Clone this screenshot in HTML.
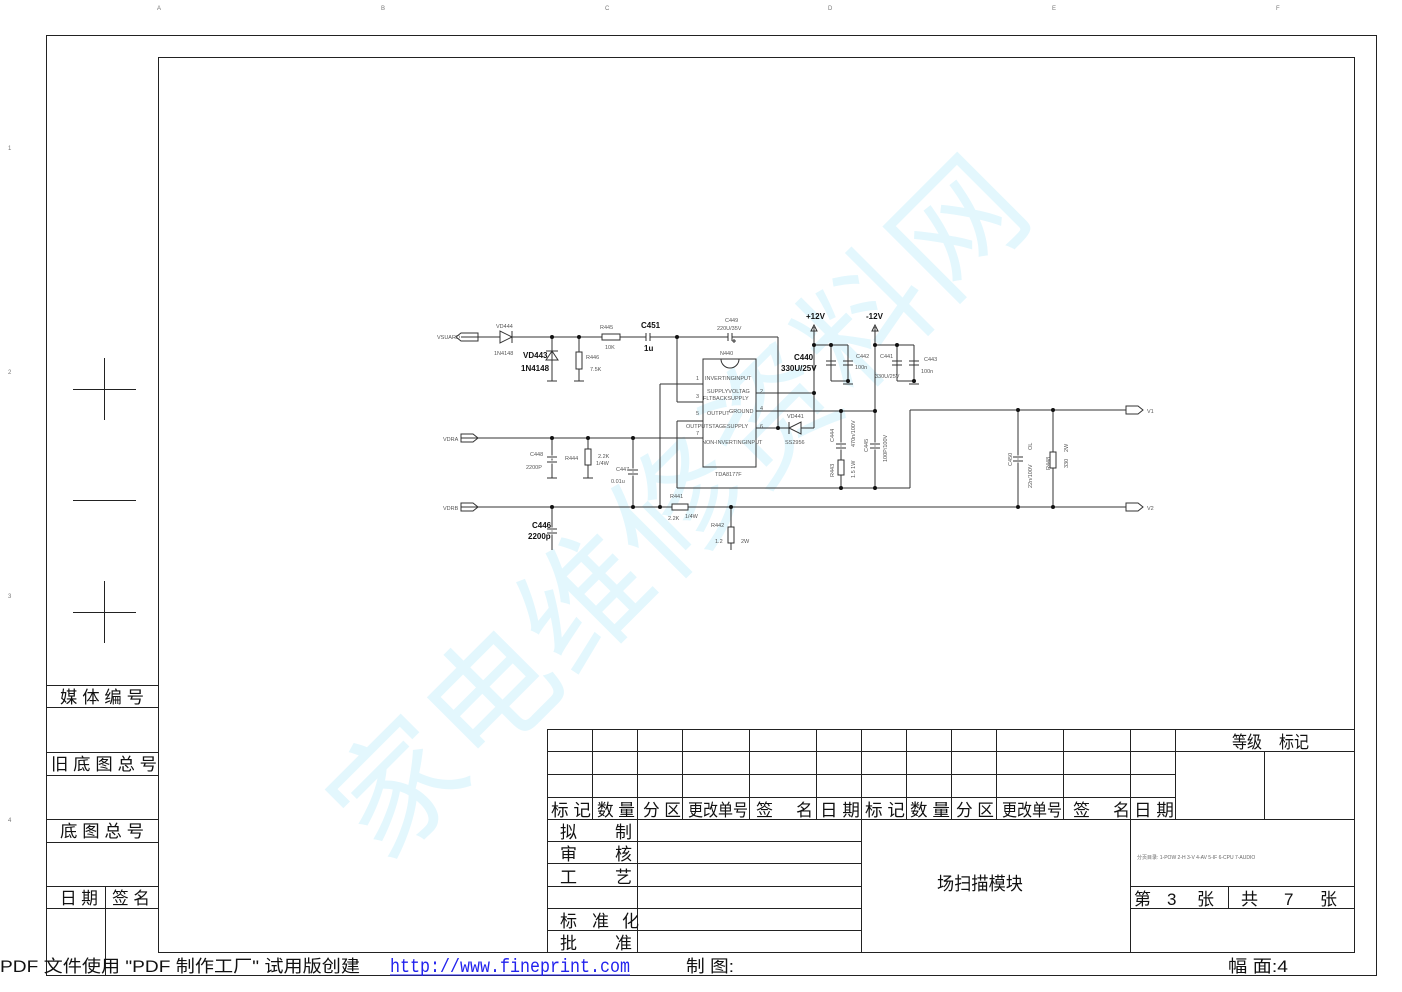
<!DOCTYPE html>
<html><head><meta charset="utf-8"><style>
html,body{margin:0;padding:0;background:#fff;}
svg{display:block;}
text{font-family:"Liberation Sans","Noto Sans CJK SC",sans-serif;}
.cn{font-family:"Liberation Sans","Noto Sans CJK SC",sans-serif;font-size:17px;fill:#111;}
.s{font-size:5.5px;fill:#555;}
.b{font-size:8px;fill:#111;font-weight:bold;}
</style></head><body>
<svg width="1402" height="992" viewBox="0 0 1402 992" xmlns="http://www.w3.org/2000/svg">
<rect width="1402" height="992" fill="#fff"/>
<!-- watermark -->
<text x="0" y="0" transform="translate(385,865) rotate(-45)" font-size="128" fill="#e3f7fd" style="font-family:'Noto Sans CJK SC',sans-serif;letter-spacing:4px">家电维修资料网</text>
<!-- zone letters -->
<g font-size="6" fill="#777">
<text x="157" y="10">A</text><text x="381" y="10">B</text><text x="605" y="10">C</text><text x="828" y="10">D</text><text x="1052" y="10">E</text><text x="1276" y="10">F</text>
<text x="8" y="150">1</text><text x="8" y="374">2</text><text x="8" y="598">3</text><text x="8" y="822">4</text>
</g>
<g fill="none" stroke="#222" stroke-width="1">
<rect x="46.5" y="35.5" width="1330" height="940"/>
<rect x="158.5" y="57.5" width="1196" height="895"/>
<line x1="46" y1="685.5" x2="158" y2="685.5"/><line x1="46" y1="707.5" x2="158" y2="707.5"/>
<line x1="46" y1="752.5" x2="158" y2="752.5"/><line x1="46" y1="775.5" x2="158" y2="775.5"/>
<line x1="46" y1="819.5" x2="158" y2="819.5"/><line x1="46" y1="842.5" x2="158" y2="842.5"/>
<line x1="46" y1="886.5" x2="158" y2="886.5"/><line x1="46" y1="908.5" x2="158" y2="908.5"/>
<line x1="105.5" y1="886" x2="105.5" y2="975"/>
<line x1="104.5" y1="358" x2="104.5" y2="420"/><line x1="73" y1="389.5" x2="136" y2="389.5"/>
<line x1="73" y1="500.5" x2="136" y2="500.5"/>
<line x1="104.5" y1="581" x2="104.5" y2="643"/><line x1="73" y1="612.5" x2="136" y2="612.5"/>
<rect x="547.5" y="729.5" width="807" height="223"/>
<line x1="547" y1="751.5" x2="1175" y2="751.5"/>
<line x1="547" y1="774.5" x2="1175" y2="774.5"/>
<line x1="547" y1="797.5" x2="1175" y2="797.5"/>
<line x1="547" y1="819.5" x2="1354" y2="819.5"/>
<line x1="1175" y1="751.5" x2="1354" y2="751.5"/>
<line x1="1264.5" y1="751" x2="1264.5" y2="819"/>
<line x1="1175.5" y1="729" x2="1175.5" y2="819"/>
<line x1="592.5" y1="729" x2="592.5" y2="819"/><line x1="637.5" y1="729" x2="637.5" y2="952"/>
<line x1="682.5" y1="729" x2="682.5" y2="819"/><line x1="749.5" y1="729" x2="749.5" y2="819"/>
<line x1="816.5" y1="729" x2="816.5" y2="819"/><line x1="861.5" y1="729" x2="861.5" y2="952"/>
<line x1="906.5" y1="729" x2="906.5" y2="819"/><line x1="951.5" y1="729" x2="951.5" y2="819"/>
<line x1="996.5" y1="729" x2="996.5" y2="819"/><line x1="1063.5" y1="729" x2="1063.5" y2="819"/>
<line x1="1130.5" y1="729" x2="1130.5" y2="952"/>
<line x1="547" y1="841.5" x2="861" y2="841.5"/><line x1="547" y1="863.5" x2="861" y2="863.5"/>
<line x1="547" y1="886.5" x2="861" y2="886.5"/><line x1="547" y1="908.5" x2="861" y2="908.5"/>
<line x1="547" y1="930.5" x2="861" y2="930.5"/>
<line x1="1130" y1="886.5" x2="1354" y2="886.5"/><line x1="1130" y1="908.5" x2="1354" y2="908.5"/>
<line x1="1228.5" y1="886" x2="1228.5" y2="908"/>
</g>
<g class="cn" font-size="16">
<text x="60" y="703" textLength="84" lengthAdjust="spacingAndGlyphs">媒 体 编 号</text>
<text x="51" y="770" textLength="106" lengthAdjust="spacingAndGlyphs">旧 底 图 总 号</text>
<text x="60" y="837" textLength="84" lengthAdjust="spacingAndGlyphs">底 图 总 号</text>
<text x="60" y="904" textLength="38" lengthAdjust="spacingAndGlyphs">日 期</text><text x="112" y="904" textLength="38" lengthAdjust="spacingAndGlyphs">签 名</text>
</g>
<g class="cn" font-size="16">
<text x="1232" y="748" textLength="30" lengthAdjust="spacingAndGlyphs">等级</text><text x="1279" y="748" textLength="30" lengthAdjust="spacingAndGlyphs">标记</text>
<text x="551" y="816" textLength="40" lengthAdjust="spacingAndGlyphs">标 记</text><text x="597" y="816" textLength="38" lengthAdjust="spacingAndGlyphs">数 量</text><text x="643" y="816" textLength="38" lengthAdjust="spacingAndGlyphs">分 区</text><text x="688" y="816" textLength="60" lengthAdjust="spacingAndGlyphs">更改单号</text><text x="756" y="816">签</text><text x="796" y="816">名</text><text x="820" y="816" textLength="40" lengthAdjust="spacingAndGlyphs">日 期</text>
<text x="865" y="816" textLength="40" lengthAdjust="spacingAndGlyphs">标 记</text><text x="910" y="816" textLength="40" lengthAdjust="spacingAndGlyphs">数 量</text><text x="956" y="816" textLength="38" lengthAdjust="spacingAndGlyphs">分 区</text><text x="1002" y="816" textLength="60" lengthAdjust="spacingAndGlyphs">更改单号</text><text x="1073" y="816">签</text><text x="1113" y="816">名</text><text x="1134" y="816" textLength="40" lengthAdjust="spacingAndGlyphs">日 期</text>
<text x="560" y="838">拟</text><text x="615" y="838">制</text>
<text x="560" y="860">审</text><text x="615" y="860">核</text>
<text x="560" y="883">工</text><text x="615" y="883">艺</text>
<text x="560" y="927">标</text><text x="592" y="927">准</text><text x="622" y="927">化</text>
<text x="560" y="949">批</text><text x="615" y="949">准</text>
<text x="937" y="890" font-size="18" textLength="86" lengthAdjust="spacingAndGlyphs">场扫描模块</text>
<text x="1134" y="905">第</text><text x="1167" y="905">3</text><text x="1197" y="905">张</text>
<text x="1241" y="905">共</text><text x="1284" y="905">7</text><text x="1320" y="905">张</text>
<text x="0" y="972" font-size="17" textLength="360" lengthAdjust="spacingAndGlyphs">PDF 文件使用 "PDF 制作工厂" 试用版创建</text>
<text x="686" y="972" textLength="48" lengthAdjust="spacingAndGlyphs">制 图:</text>
<text x="1228" y="972" textLength="60" lengthAdjust="spacingAndGlyphs">幅 面:4</text>
</g>
<text x="390" y="972" font-size="19" fill="#2222ee" style="font-family:'Liberation Mono',monospace" textLength="240" lengthAdjust="spacingAndGlyphs">http://www.fineprint.com</text>
<line x1="390" y1="975" x2="630" y2="975" stroke="#2222ee"/>
<text x="1137" y="859" font-size="5" fill="#666">分页目录:  1-POW  2-H  3-V  4-AV  5-IF  6-CPU  7-AUDIO</text>

<g fill="none" stroke="#333" stroke-width="1">
<path d="M478 337h-17 M461 333h17v8h-17l-5-4z"/>
<path d="M478 438h-17v-4h12l5 4l-5 4h-12v-4"/>
<path d="M478 507h-17v-4h12l5 4l-5 4h-12v-4"/>
<path d="M1126 406h12l5 4l-5 4h-12z"/>
<path d="M1126 503h12l5 4l-5 4h-12z"/>
<line x1="478" y1="337" x2="500" y2="337"/><line x1="512" y1="337" x2="602" y2="337"/>
<line x1="620" y1="337" x2="646" y2="337"/><line x1="650" y1="337" x2="728" y2="337"/>
<line x1="732" y1="337" x2="778" y2="337"/><line x1="778" y1="337" x2="778" y2="428"/>
<path d="M500 331v12l12-6z M512 331v12"/>
<line x1="552" y1="337" x2="552" y2="381"/>
<path d="M546 360h12l-6-9z M546 351h12"/>
<line x1="547" y1="381" x2="557" y2="381"/>
<line x1="579" y1="337" x2="579" y2="381"/><rect x="576" y="352" width="6" height="17" fill="#fff"/>
<line x1="574" y1="381" x2="584" y2="381"/>
<rect x="602" y="334" width="18" height="6" fill="#fff"/>
<line x1="646" y1="333" x2="646" y2="341"/><line x1="650" y1="333" x2="650" y2="341"/>
<line x1="728" y1="333" x2="728" y2="341"/><path d="M732 333v8 M732 341h4 M734 339v4"/>
<rect x="703" y="359" width="53" height="108"/>
<path d="M721 359a9 9 0 0 0 18 0"/>
<line x1="677" y1="337" x2="677" y2="402"/><line x1="677" y1="402" x2="703" y2="402"/>
<line x1="660" y1="384" x2="703" y2="384"/><line x1="660" y1="384" x2="660" y2="507"/>
<line x1="677" y1="421" x2="703" y2="421"/><line x1="677" y1="421" x2="677" y2="488"/>
<line x1="677" y1="488" x2="910" y2="488"/><line x1="910" y1="488" x2="910" y2="410"/>
<line x1="910" y1="410" x2="1126" y2="410"/>
<line x1="756" y1="393" x2="814" y2="393"/>
<line x1="756" y1="411" x2="875" y2="411"/>
<line x1="756" y1="428" x2="789" y2="428"/><line x1="801" y1="428" x2="814" y2="428"/>
<path d="M801 422v12l-12-6z M789 422v12"/>
<line x1="814" y1="327" x2="814" y2="428"/>
<path d="M811 331l3-6l3 6z"/>
<line x1="814" y1="345" x2="848" y2="345"/>
<line x1="831" y1="345" x2="831" y2="381"/><path d="M826 361h10 M826 365h10"/>
<line x1="848" y1="345" x2="848" y2="383"/><path d="M843 361h10 M843 365h10"/>
<line x1="831" y1="381" x2="848" y2="381"/><line x1="843" y1="384" x2="853" y2="384"/>
<line x1="875" y1="327" x2="875" y2="488"/>
<path d="M872 331l3-6l3 6z"/>
<line x1="875" y1="345" x2="914" y2="345"/>
<line x1="897" y1="345" x2="897" y2="381"/><path d="M892 361h10 M892 365h10"/>
<line x1="914" y1="345" x2="914" y2="383"/><path d="M909 361h10 M909 365h10"/>
<line x1="897" y1="381" x2="914" y2="381"/><line x1="909" y1="384" x2="919" y2="384"/>
<path d="M870 444h10 M870 448h10" stroke="#fff" stroke-width="3"/><path d="M870 444h10 M870 448h10"/>
<line x1="841" y1="411" x2="841" y2="488"/>
<path d="M836 444h10 M836 448h10" stroke="#fff" stroke-width="3"/><path d="M836 444h10 M836 448h10"/>
<rect x="838" y="460" width="6" height="15" fill="#fff"/>
<line x1="478" y1="438" x2="703" y2="438"/>
<line x1="552" y1="438" x2="552" y2="478"/><path d="M547 457h10 M547 462h10" stroke="#fff" stroke-width="3"/><path d="M547 457h10 M547 462h10"/><line x1="547" y1="478" x2="557" y2="478"/>
<line x1="588" y1="438" x2="588" y2="478"/><rect x="585" y="449" width="6" height="16" fill="#fff"/><line x1="583" y1="478" x2="593" y2="478"/>
<line x1="633" y1="438" x2="633" y2="507"/><path d="M628 470h10 M628 474h10" stroke="#fff" stroke-width="3"/><path d="M628 470h10 M628 474h10"/>
<line x1="478" y1="507" x2="1126" y2="507"/>
<rect x="672" y="504" width="16" height="6" fill="#fff"/>
<line x1="731" y1="507" x2="731" y2="550"/><rect x="728" y="527" width="6" height="16" fill="#fff"/>
<line x1="552" y1="507" x2="552" y2="550"/><path d="M547 529h10 M547 533h10" stroke="#fff" stroke-width="3"/><path d="M547 529h10 M547 533h10"/>
<line x1="1018" y1="410" x2="1018" y2="507"/><path d="M1013 457h10 M1013 461h10" stroke="#fff" stroke-width="3"/><path d="M1013 457h10 M1013 461h10"/>
<line x1="1053" y1="410" x2="1053" y2="507"/><rect x="1050" y="452" width="6" height="16" fill="#fff"/>
</g>
<g fill="#111">
<circle cx="552" cy="337" r="2"/><circle cx="579" cy="337" r="2"/><circle cx="677" cy="337" r="2"/>
<circle cx="814" cy="345" r="2"/><circle cx="831" cy="345" r="2"/><circle cx="848" cy="381" r="2"/>
<circle cx="875" cy="345" r="2"/><circle cx="897" cy="345" r="2"/><circle cx="914" cy="381" r="2"/>
<circle cx="814" cy="393" r="2"/><circle cx="778" cy="428" r="2"/><circle cx="841" cy="411" r="2"/><circle cx="875" cy="411" r="2"/>
<circle cx="841" cy="488" r="2"/><circle cx="875" cy="488" r="2"/>
<circle cx="552" cy="438" r="2"/><circle cx="588" cy="438" r="2"/><circle cx="633" cy="438" r="2"/>
<circle cx="552" cy="507" r="2"/><circle cx="633" cy="507" r="2"/><circle cx="660" cy="507" r="2"/><circle cx="731" cy="507" r="2"/>
<circle cx="1018" cy="410" r="2"/><circle cx="1053" cy="410" r="2"/><circle cx="1018" cy="507" r="2"/><circle cx="1053" cy="507" r="2"/>
</g>
<g class="s">
<text x="437" y="339">VSUARD</text><text x="496" y="328">VD444</text><text x="494" y="355">1N4148</text>
<text x="600" y="329">R445</text><text x="605" y="349">10K</text><text x="586" y="359">R446</text><text x="590" y="371">7.5K</text>
<text x="725" y="322">C449</text><text x="717" y="330">220U/35V</text><text x="720" y="355">N440</text>
<text x="696" y="380">1</text><text x="705" y="380">INVERTINGINPUT</text>
<text x="707" y="393">SUPPLYVOLTAG</text><text x="696" y="398">3</text><text x="703" y="400">FLTBACKSUPPLY</text>
<text x="696" y="415">5</text><text x="707" y="415">OUTPUT</text><text x="729" y="413">GROUND</text>
<text x="686" y="428">OUTPUTSTAGESUPPLY</text><text x="696" y="435">7</text><text x="702" y="444">NON-INVERTINGINPUT</text>
<text x="760" y="393">2</text><text x="760" y="410">4</text><text x="760" y="428">6</text>
<text x="715" y="476">TDA8177F</text><text x="787" y="418">VD441</text><text x="785" y="444">SS2956</text>
<text x="856" y="358">C442</text><text x="855" y="369">100n</text><text x="880" y="358">C441</text><text x="875" y="378">330U/25V</text>
<text x="924" y="361">C443</text><text x="921" y="373">100n</text>
<text x="443" y="441">VDRA</text><text x="443" y="510">VDRB</text>
<text x="530" y="456">C448</text><text x="526" y="469">2200P</text><text x="565" y="460">R444</text>
<text x="598" y="458">2.2K</text><text x="596" y="465">1/4W</text><text x="616" y="471">C447</text><text x="611" y="483">0.01u</text>
<text x="670" y="498">R441</text><text x="668" y="520">2.2K</text><text x="685" y="518">1/4W</text>
<text x="711" y="527">R442</text><text x="715" y="543">1.2</text><text x="741" y="543">2W</text>
<text x="1147" y="413">V1</text><text x="1147" y="510">V2</text>
</g>
<g class="s">
<text transform="translate(834,442) rotate(-90)">C444</text><text transform="translate(855,447) rotate(-90)">470n/100V</text>
<text transform="translate(834,477) rotate(-90)">R443</text><text transform="translate(855,478) rotate(-90)">1.5 1W</text>
<text transform="translate(868,452) rotate(-90)">C445</text><text transform="translate(887,462) rotate(-90)">100P/100V</text>
<text transform="translate(1012,466) rotate(-90)">C450</text><text transform="translate(1032,450) rotate(-90)">OL</text>
<text transform="translate(1032,488) rotate(-90)">22n/100V</text>
<text transform="translate(1050,470) rotate(-90)">R448</text><text transform="translate(1068,468) rotate(-90)">330</text><text transform="translate(1068,452) rotate(-90)">2W</text>
</g>
<g class="b">
<text x="641" y="328">C451</text><text x="644" y="351">1u</text>
<text x="523" y="358">VD443</text><text x="521" y="371">1N4148</text>
<text x="806" y="319">+12V</text><text x="866" y="319">-12V</text>
<text x="794" y="360">C440</text><text x="781" y="371">330U/25V</text>
<text x="532" y="528">C446</text><text x="528" y="539">2200p</text>
</g>
</svg>
</body></html>
